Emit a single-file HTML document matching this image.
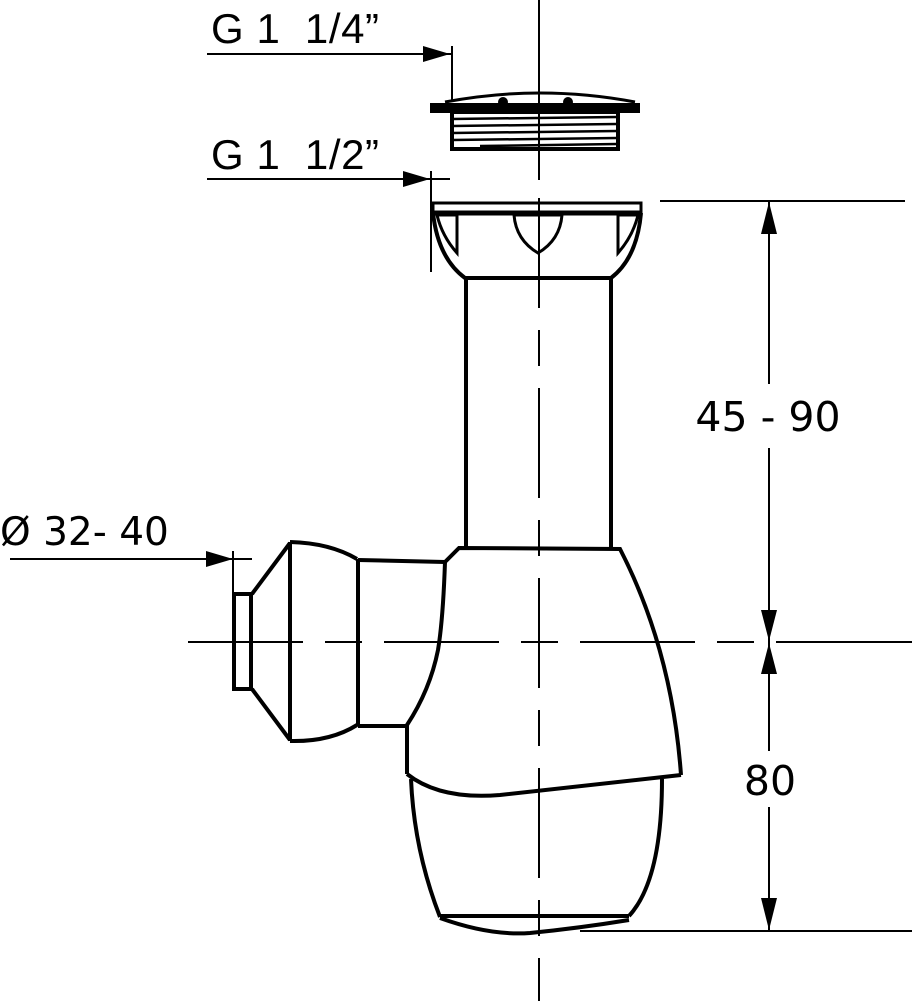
<!DOCTYPE html>
<html><head><style>html,body{margin:0;padding:0;background:#fff}svg{display:block}</style></head>
<body>
<svg width="912" height="1001" viewBox="0 0 912 1001" xmlns="http://www.w3.org/2000/svg">
<g fill="#000">
<text x="211" y="43" font-size="42" textLength="168" font-family="'Liberation Sans',sans-serif" style="white-space:pre">G 1  1/4”</text>
<text x="211" y="169" font-size="42" textLength="168" font-family="'Liberation Sans',sans-serif" style="white-space:pre">G 1  1/2”</text>
<text x="0" y="545" font-size="39" font-family="'DejaVu Sans',sans-serif">Ø 32- 40</text>
<text x="768" y="431" font-size="41" text-anchor="middle" font-family="'DejaVu Sans',sans-serif">45 - 90</text>
<text x="770" y="795" font-size="41" text-anchor="middle" font-family="'DejaVu Sans',sans-serif">80</text>
</g>
<g stroke="#000" stroke-width="2" fill="none">
<line x1="539" y1="0" x2="539" y2="180"/>
<line x1="539" y1="198" x2="539" y2="1001" stroke-dasharray="110 22 36 22"/>
<line x1="188" y1="642" x2="890" y2="642" stroke-dasharray="115 22 37 22"/>
<line x1="785" y1="642" x2="912" y2="642"/>
<line x1="207" y1="54" x2="452" y2="54"/>
<line x1="452" y1="46" x2="452" y2="100"/>
<line x1="207" y1="179" x2="450" y2="179"/>
<line x1="431" y1="171" x2="431" y2="272"/>
<line x1="10" y1="559" x2="252" y2="559"/>
<line x1="233" y1="551" x2="233" y2="594"/>
<line x1="660" y1="201" x2="905" y2="201"/>
<line x1="580" y1="931" x2="912" y2="931"/>
<line x1="769" y1="201" x2="769" y2="384"/>
<line x1="769" y1="448" x2="769" y2="642"/>
<line x1="769" y1="642" x2="769" y2="751"/>
<line x1="769" y1="807" x2="769" y2="931"/>
</g>
<g fill="#000">
<polygon points="450,54 423,46 423,62"/>
<polygon points="430,179 403,171 403,187"/>
<polygon points="233,559 206,551 206,567"/>
<polygon points="769,202 761,234 777,234"/>
<polygon points="769,641 761,610 777,610"/>
<polygon points="769,643 761,674 777,674"/>
<polygon points="769,930 761,898 777,898"/>
</g>
<g stroke="#000" fill="none" stroke-width="4">
<rect x="430" y="103" width="210" height="10" fill="#000" stroke="none"/>
<path d="M445 102 Q540 84 635 102" stroke-width="3"/>
<circle cx="503" cy="102" r="5" fill="#000" stroke="none"/>
<circle cx="568" cy="102" r="5" fill="#000" stroke="none"/>
<rect x="452" y="112" width="166" height="37"/>
<g stroke-width="2.5">
<line x1="452" y1="119" x2="617" y2="117"/>
<line x1="452" y1="126" x2="617" y2="124"/>
<line x1="452" y1="133" x2="617" y2="131"/>
<line x1="452" y1="140" x2="617" y2="138"/>
<line x1="480" y1="146" x2="617" y2="144"/>
</g>
<rect x="433" y="203" width="208" height="9" stroke-width="3"/>
<line x1="433" y1="213" x2="641" y2="213" stroke-width="5"/>
<path d="M433 213 Q438 258 465 278 L611 278 Q637 258 641 213"/>
<path d="M514 215 L562 215 Q560 240 538 253 Q516 240 514 215" stroke-width="3"/>
<path d="M437 215 L457 215 L457 253 Q442 236 437 215" stroke-width="3"/>
<path d="M638 215 L618 215 L618 253 Q633 236 638 215" stroke-width="3"/>
<line x1="466" y1="278" x2="466" y2="548"/>
<line x1="611" y1="278" x2="611" y2="549"/>
<rect x="234" y="594" width="17" height="95"/>
<path d="M252 594 L290 543 M252 689 L290 740"/>
<line x1="290" y1="542" x2="290" y2="741"/>
<path d="M290 542 Q330 543 357 559 M290 741 Q330 742 357 725"/>
<line x1="358" y1="559" x2="358" y2="726"/>
<path d="M358 560 L445 562 M358 726 L407 726"/>
<path d="M445 562 L459 548 L620 549 Q672 650 681 775"/>
<path d="M445 562 Q443 620 438 650 Q430 690 407 725 L407 774"/>
<path d="M407 774 Q440 800 500 795 L681 775"/>
<path d="M411 779 Q414 850 440 917"/>
<path d="M662 779 Q662 880 629 916"/>
<line x1="440" y1="916" x2="629" y2="916"/>
<path d="M440 918 Q490 936 530 933 Q580 928 629 920"/>
</g>
</svg>
</body></html>
